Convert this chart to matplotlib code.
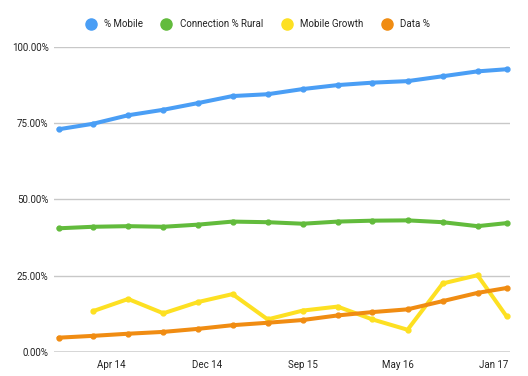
#mobile / rural connection / data share, quarterly readings
import pandas as pd
import numpy as np
import matplotlib.pyplot as plt
import matplotlib.dates as mdates
from matplotlib.lines import Line2D

plt.rcParams["font.family"] = ["Roboto", "DejaVu Sans"]

#dates of each reading (quarterly, last one a bit later)
dates = pd.to_datetime([
    "2013-12-01", "2014-03-01", "2014-06-01", "2014-09-01", "2014-12-01",
    "2015-03-01", "2015-06-01", "2015-09-01", "2015-12-01", "2016-03-01",
    "2016-06-01", "2016-09-01", "2016-12-01", "2017-02-15",
])

#values in percent
pct_mobile = [73.0, 74.8, 77.6, 79.4, 81.6, 83.9, 84.5, 86.2, 87.5, 88.3, 88.8, 90.4, 92.0, 92.7]
conn_rural = [40.5, 41.0, 41.2, 41.0, 41.7, 42.7, 42.5, 42.0, 42.7, 43.0, 43.1, 42.5, 41.2, 42.2]
mobile_growth = [np.nan, 13.3, 17.3, 12.6, 16.3, 18.9, 10.6, 13.5, 14.8, 10.6, 7.2, 22.4, 25.1, 11.6]
data_pct = [4.6, 5.2, 5.9, 6.5, 7.5, 8.7, 9.5, 10.4, 11.9, 13.0, 13.9, 16.6, 19.3, 20.9]

series_names = ["% Mobile", "Connection % Rural", "Mobile Growth", "Data %"]
series_vals = [pct_mobile, conn_rural, mobile_growth, data_pct]
colors = ["#4a9ef5", "#62bb3c", "#fde022", "#f08c12"]

#where the axis labels sit
tick_dates = pd.to_datetime(["2014-04-19", "2014-12-25", "2015-09-01", "2016-05-07", "2017-01-13"])
y_ticks = [0, 25, 50, 75, 100]

fig = plt.figure(figsize=(5.28, 3.76), dpi=100)
ax = fig.add_axes([54 / 528, 1 - 351.7 / 376, (510 - 54) / 528, (351.7 - 47) / 376])

for name, vals, c in zip(series_names, series_vals, colors):
    ax.plot(dates, vals, color=c, lw=2.9, marker="o", ms=3.5, label=name,
            solid_capstyle="round", solid_joinstyle="round")

ax.set_ylim(0, 100)
ax.set_xlim(dates[0] - pd.Timedelta(days=12), dates[-1] + pd.Timedelta(days=9))

#gridlines
for t in y_ticks:
    ax.axhline(t, color="#333333" if t == 0 else "#c8c8c8", lw=1.0, zorder=0)

ax.set_yticks(y_ticks)
ax.set_yticklabels([f"{t:.2f}%" for t in y_ticks])
ax.set_xticks(tick_dates)
ax.xaxis.set_major_formatter(mdates.DateFormatter("%b %y"))
ax.tick_params(length=0, labelsize=7, colors="#222222", pad=4)
ax.tick_params(axis="x", pad=6)
for s in ax.spines.values():
    s.set_visible(False)
ax.grid(False)

#legend on top, just colored dots
handles = [Line2D([], [], ls="none", marker="o", ms=8, color=c) for c in colors]
fig.legend(handles, series_names, loc="center", bbox_to_anchor=(258 / 528, 1 - 24 / 376),
           ncol=4, frameon=False, fontsize=7, handlelength=1.0, handletextpad=0.9,
           columnspacing=1.9, labelcolor="#222222")

fig.savefig("out.png", dpi=100)
